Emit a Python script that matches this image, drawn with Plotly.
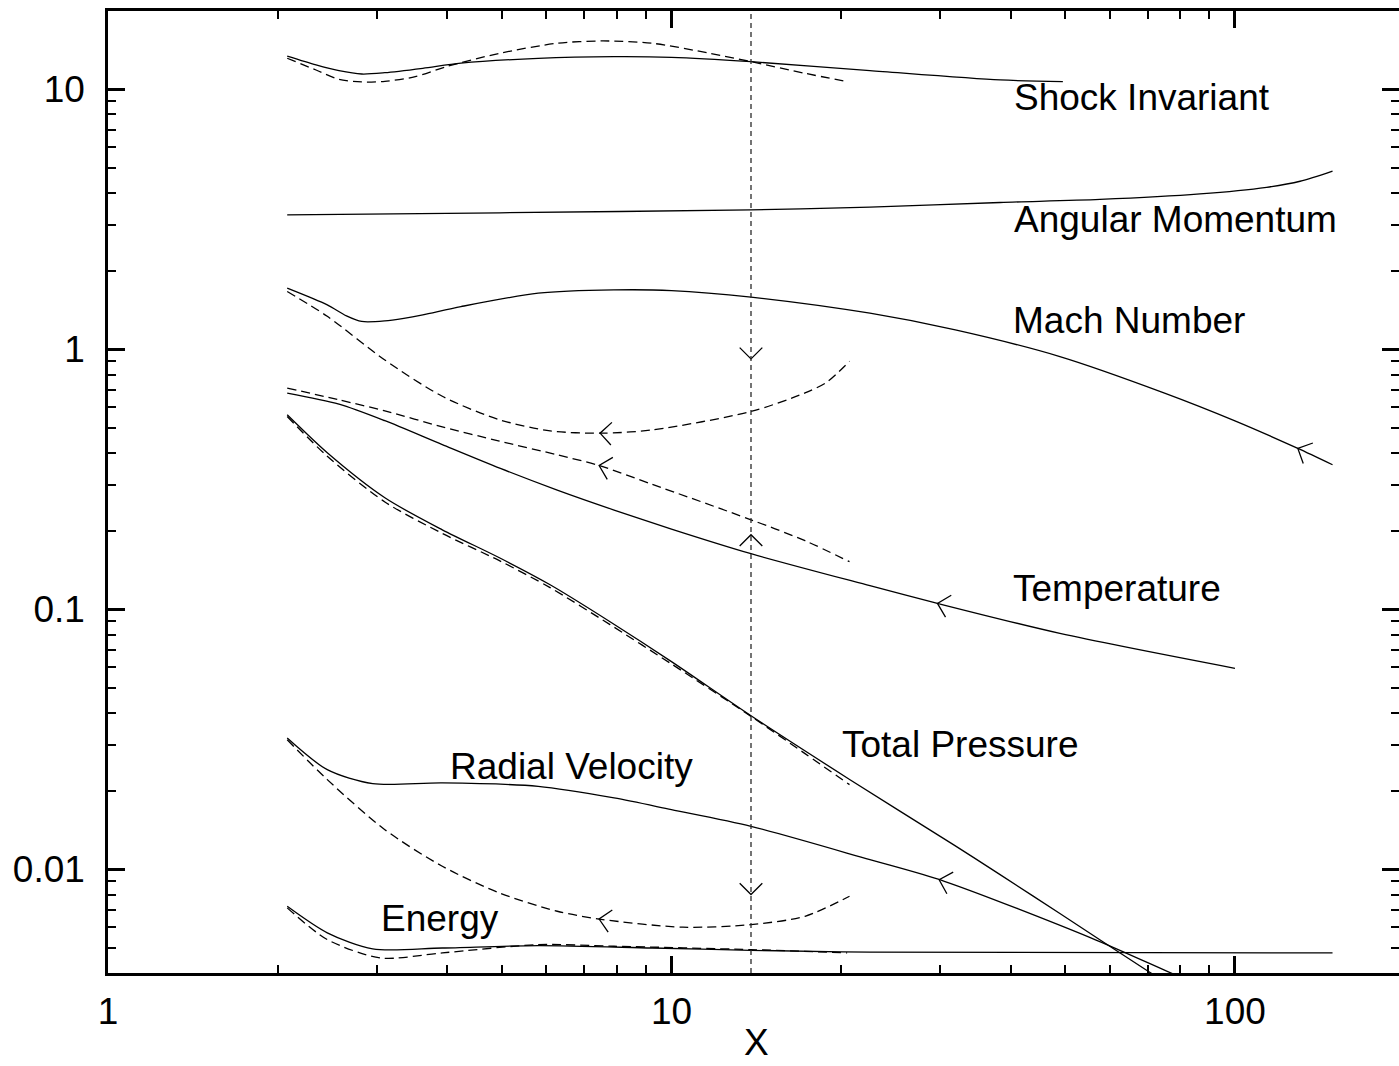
import numpy as np
import plotly.graph_objects as go

# ---------------- data ----------------
SHOCK_X = 13.84  # shock position (vertical dashed line)

SHOCK_INV_X = [2.08, 2.34, 2.57, 2.82, 3.10, 3.62, 4.23, 5.8, 7.9, 10.0, 13.84, 22.5, 38.3, 49.5]
SHOCK_INV_Y = [13.4, 12.4, 11.79, 11.45, 11.58, 12.04, 12.6, 13.15, 13.35, 13.27, 12.77, 11.8, 10.86, 10.7]
SHOCK_INV_DX = [2.08, 2.34, 2.57, 2.82, 3.10, 3.51, 3.98, 4.95, 6.27, 7.56, 9.24, 11.7, 13.84, 17.26, 20.5]
SHOCK_INV_DY = [13.16, 11.86, 10.93, 10.67, 10.73, 11.18, 12.21, 13.75, 15.03, 15.34, 15.03, 13.75, 12.77,
                11.52, 10.70]

ANG_X = [2.08, 4.96, 13.84, 22.5, 38.3, 57.6, 86.7, 113.8, 130.5, 149]
ANG_Y = [3.29, 3.35, 3.44, 3.52, 3.67, 3.77, 3.96, 4.20, 4.43, 4.85]

MACH_X = [2.08, 2.45, 2.65, 2.82, 3.10, 3.35, 3.62, 4.23, 5.8, 7.9, 10.0, 13.84, 22.5, 31.9, 48.9, 75.0,
          100.0, 129.0, 149.0]
MACH_Y = [1.72, 1.483, 1.345, 1.280, 1.286, 1.316, 1.357, 1.46, 1.644, 1.693, 1.683, 1.588, 1.377, 1.188,
          0.938, 0.679, 0.531, 0.417, 0.360]
MACH_DX = [2.08, 2.45, 3.10, 3.92, 4.95, 6.09, 7.5, 9.24, 13.84, 17.26, 18.9, 20.7]
MACH_DY = [1.67, 1.34, 0.91, 0.66, 0.536, 0.486, 0.476, 0.49, 0.577, 0.68, 0.75, 0.90]

TEMP_X = [2.08, 2.57, 3.10, 3.92, 4.97, 6.27, 7.91, 10.0, 13.84, 22.5, 29.65, 48.9, 100.0]
TEMP_Y = [0.679, 0.6157, 0.5316, 0.4302, 0.3485, 0.2876, 0.2410, 0.2037, 0.1638, 0.1234, 0.1055, 0.0809,
          0.0594]
TEMP_DX = [2.08, 2.57, 3.10, 3.92, 4.95, 6.27, 7.44, 9.24, 13.84, 17.26, 20.7]
TEMP_DY = [0.7097, 0.6396, 0.5801, 0.5036, 0.4438, 0.3931, 0.3575, 0.3028, 0.2212, 0.1838, 0.1526]

PRES_X = [2.08, 2.45, 3.10, 3.92, 4.95, 6.09, 7.78, 10.0, 13.84, 20.74, 31.85, 38.3, 48.9, 69.8, 79.9]
PRES_Y = [0.5602, 0.4002, 0.2687, 0.2024, 0.1580, 0.1244, 0.0897, 0.0630, 0.0390, 0.02215, 0.01235,
          0.00956, 0.00677, 0.00409, 0.00339]
PRES_DX = [2.08, 2.45, 3.10, 3.92, 4.95, 6.09, 7.78, 10.0, 13.84, 17.26, 20.7]
PRES_DY = [0.552, 0.388, 0.259, 0.196, 0.154, 0.1213, 0.0874, 0.0617, 0.0388, 0.0279, 0.0212]

RADV_X = [2.08, 2.45, 2.95, 3.92, 5.80, 7.91, 10.0, 13.84, 22.5, 30.5, 55.5, 76.0, 83.2]
RADV_Y = [0.03203, 0.02420, 0.02138, 0.02152, 0.02088, 0.01884, 0.01699, 0.01466, 0.01091, 0.00901,
          0.00546, 0.00405, 0.00372]
RADV_DX = [2.08, 2.45, 3.10, 3.92, 4.95, 6.27, 7.44, 10.48, 13.84, 17.26, 20.7]
RADV_DY = [0.03155, 0.02216, 0.01423, 0.01029, 0.00813, 0.00691, 0.00645, 0.00600, 0.00614, 0.00661, 0.00789]

ENER_X = [2.08, 2.45, 2.95, 3.92, 5.80, 9.24, 13.84, 22.5, 149.0]
ENER_Y = [0.00722, 0.00571, 0.00495, 0.00499, 0.00510, 0.00499, 0.00489, 0.00481, 0.00478]
ENER_DX = [2.08, 2.45, 3.05, 3.92, 5.80, 7.91, 13.84, 20.5]
ENER_DY = [0.00712, 0.00538, 0.00457, 0.00478, 0.00514, 0.00507, 0.00492, 0.00478]

# arrows along curves: (curve x, curve y, x of tip); all point toward smaller X
CURVE_ARROWS = [
    (MACH_DX, MACH_DY, 7.47),
    (TEMP_DX, TEMP_DY, 7.44),
    (RADV_DX, RADV_DY, 7.44),
    (TEMP_X, TEMP_Y, 29.65),
    (MACH_X, MACH_Y, 129.3),
    (RADV_X, RADV_Y, 29.86),
]
# arrows on the shock line: (tip y, direction)
SHOCK_ARROWS = [(0.919, "down"), (0.1937, "up"), (0.00801, "down")]

LABELS = [
    ("Shock Invariant", 40.2, 9.30),
    ("Angular Momentum", 40.2, 3.146),
    ("Mach Number", 40.0, 1.289),
    ("Temperature", 40.0, 0.1199),
    ("Total Pressure", 19.9, 0.0303),
    ("Radial Velocity", 4.01, 0.0249),
    ("Energy", 3.03, 0.00649),
]

X_TICKS = [1, 10, 100]
X_TICKTEXT = ["1", "10", "100"]
Y_TICKS = [0.01, 0.1, 1, 10]
Y_TICKTEXT = ["0.01", "0.1", "1", "10"]
X_MINOR = [m * d for d in (1, 10, 100) for m in range(2, 10)]
Y_MINOR = [m * d for d in (0.001, 0.01, 0.1, 1, 10) for m in range(2, 10)]

X_RANGE = [1.0, 195.5]
Y_RANGE = [0.004, 20.0]

# ---------------- layout geometry ----------------
W, H = 1399, 1066
ML, MR, MT, MB = 108, 0, 11, 93
PW, PH = W - ML - MR, H - MT - MB
XR = [np.log10(X_RANGE[0]), np.log10(X_RANGE[1])]
YR = [np.log10(Y_RANGE[0]), np.log10(Y_RANGE[1])]
PPD_X = PW / (XR[1] - XR[0])
PPD_Y = PH / (YR[1] - YR[0])

FONT = "Liberation Sans, Arial, Helvetica, sans-serif"
LW = 1.3
ARM = 16.0

fig = go.Figure()


def add_curve(xs, ys, dash=None):
    fig.add_trace(go.Scatter(
        x=xs, y=ys, mode="lines",
        line=dict(color="black", width=LW, dash=dash, shape="spline", smoothing=0.8),
        showlegend=False, hoverinfo="skip"))


for xs, ys in [(SHOCK_INV_X, SHOCK_INV_Y), (ANG_X, ANG_Y), (MACH_X, MACH_Y), (TEMP_X, TEMP_Y),
               (PRES_X, PRES_Y), (RADV_X, RADV_Y), (ENER_X, ENER_Y)]:
    add_curve(xs, ys)
for xs, ys in [(SHOCK_INV_DX, SHOCK_INV_DY), (MACH_DX, MACH_DY), (TEMP_DX, TEMP_DY),
               (PRES_DX, PRES_DY), (RADV_DX, RADV_DY), (ENER_DX, ENER_DY)]:
    add_curve(xs, ys, dash="9px,5px")


def chevron(lx, ly, dx, dy):
    """dx, dy: travel direction in screen pixels (y down)."""
    n = np.hypot(dx, dy)
    bx, by = -dx / n, -dy / n
    xs, ys = [], []
    for th in (np.pi / 4, -np.pi / 4):
        ox = ARM * (bx * np.cos(th) - by * np.sin(th))
        oy = ARM * (bx * np.sin(th) + by * np.cos(th))
        xs.append(10 ** (lx + ox / PPD_X))
        ys.append(10 ** (ly - oy / PPD_Y))
    return [xs[0], 10 ** lx, xs[1], None], [ys[0], 10 ** ly, ys[1], None]


ax_all, ay_all = [], []
for xs, ys, xt in CURVE_ARROWS:
    lxs, lys = np.log10(xs), np.log10(ys)
    lxt = np.log10(xt)
    lyt = float(np.interp(lxt, lxs, lys))
    i = int(np.clip(np.searchsorted(lxs, lxt), 1, len(lxs) - 1))
    m = (lys[i] - lys[i - 1]) / (lxs[i] - lxs[i - 1])
    cx, cy = chevron(lxt, lyt, -PPD_X, PPD_Y * m)
    ax_all += cx
    ay_all += cy
for yt, d in SHOCK_ARROWS:
    cx, cy = chevron(np.log10(SHOCK_X), np.log10(yt), 0.0, 1.0 if d == "down" else -1.0)
    ax_all += cx
    ay_all += cy
fig.add_trace(go.Scatter(x=ax_all, y=ay_all, mode="lines", line=dict(color="black", width=LW),
                         showlegend=False, hoverinfo="skip"))

# empty trace to carry the right-hand tick axis
fig.add_trace(go.Scatter(x=[None], y=[None], yaxis="y2", showlegend=False, hoverinfo="skip"))

fig.add_shape(type="line", xref="x", yref="paper", x0=SHOCK_X, x1=SHOCK_X, y0=0, y1=1,
              line=dict(color="#2a2a2a", width=1.3, dash="5px,4px"))

for txt, x, y in LABELS:
    fig.add_annotation(x=np.log10(x), y=np.log10(y), xref="x", yref="y", text=txt,
                       showarrow=False, xanchor="left", yanchor="middle",
                       font=dict(family=FONT, size=37, color="black"))

fig.add_annotation(x=(756 - ML) / PW, y=-(1042 - (H - MB)) / PH, xref="paper", yref="paper",
                   text="X", showarrow=False, xanchor="center", yanchor="middle",
                   font=dict(family=FONT, size=37, color="black"))

axis_common = dict(type="log", showgrid=False, zeroline=False, ticks="inside",
                   tickcolor="black", tickwidth=2.5, ticklen=17,
                   tickfont=dict(family=FONT, size=37, color="black"))

fig.update_layout(
    width=W, height=H,
    margin=dict(l=ML, r=MR, t=MT, b=MB, pad=0),
    paper_bgcolor="white", plot_bgcolor="white",
    showlegend=False,
    xaxis=dict(range=XR, tickvals=X_TICKS, ticktext=X_TICKTEXT,
               showline=True, linecolor="black", linewidth=2.5, mirror="ticks",
               ticklabelstandoff=4,
               minor=dict(tickvals=X_MINOR, ticks="inside", ticklen=8, tickwidth=2, tickcolor="black"),
               **axis_common),
    yaxis=dict(range=YR, tickvals=Y_TICKS, ticktext=Y_TICKTEXT,
               showline=True, linecolor="black", linewidth=2.5, mirror=False,
               ticklabelstandoff=13,
               minor=dict(tickvals=Y_MINOR, ticks="inside", ticklen=8, tickwidth=2, tickcolor="black"),
               **axis_common),
    yaxis2=dict(range=YR, overlaying="y", side="right", tickvals=Y_TICKS, showticklabels=False,
                showline=False,
                minor=dict(tickvals=Y_MINOR, ticks="inside", ticklen=8, tickwidth=2, tickcolor="black"),
                **axis_common),
)

fig.write_html("out.html")
